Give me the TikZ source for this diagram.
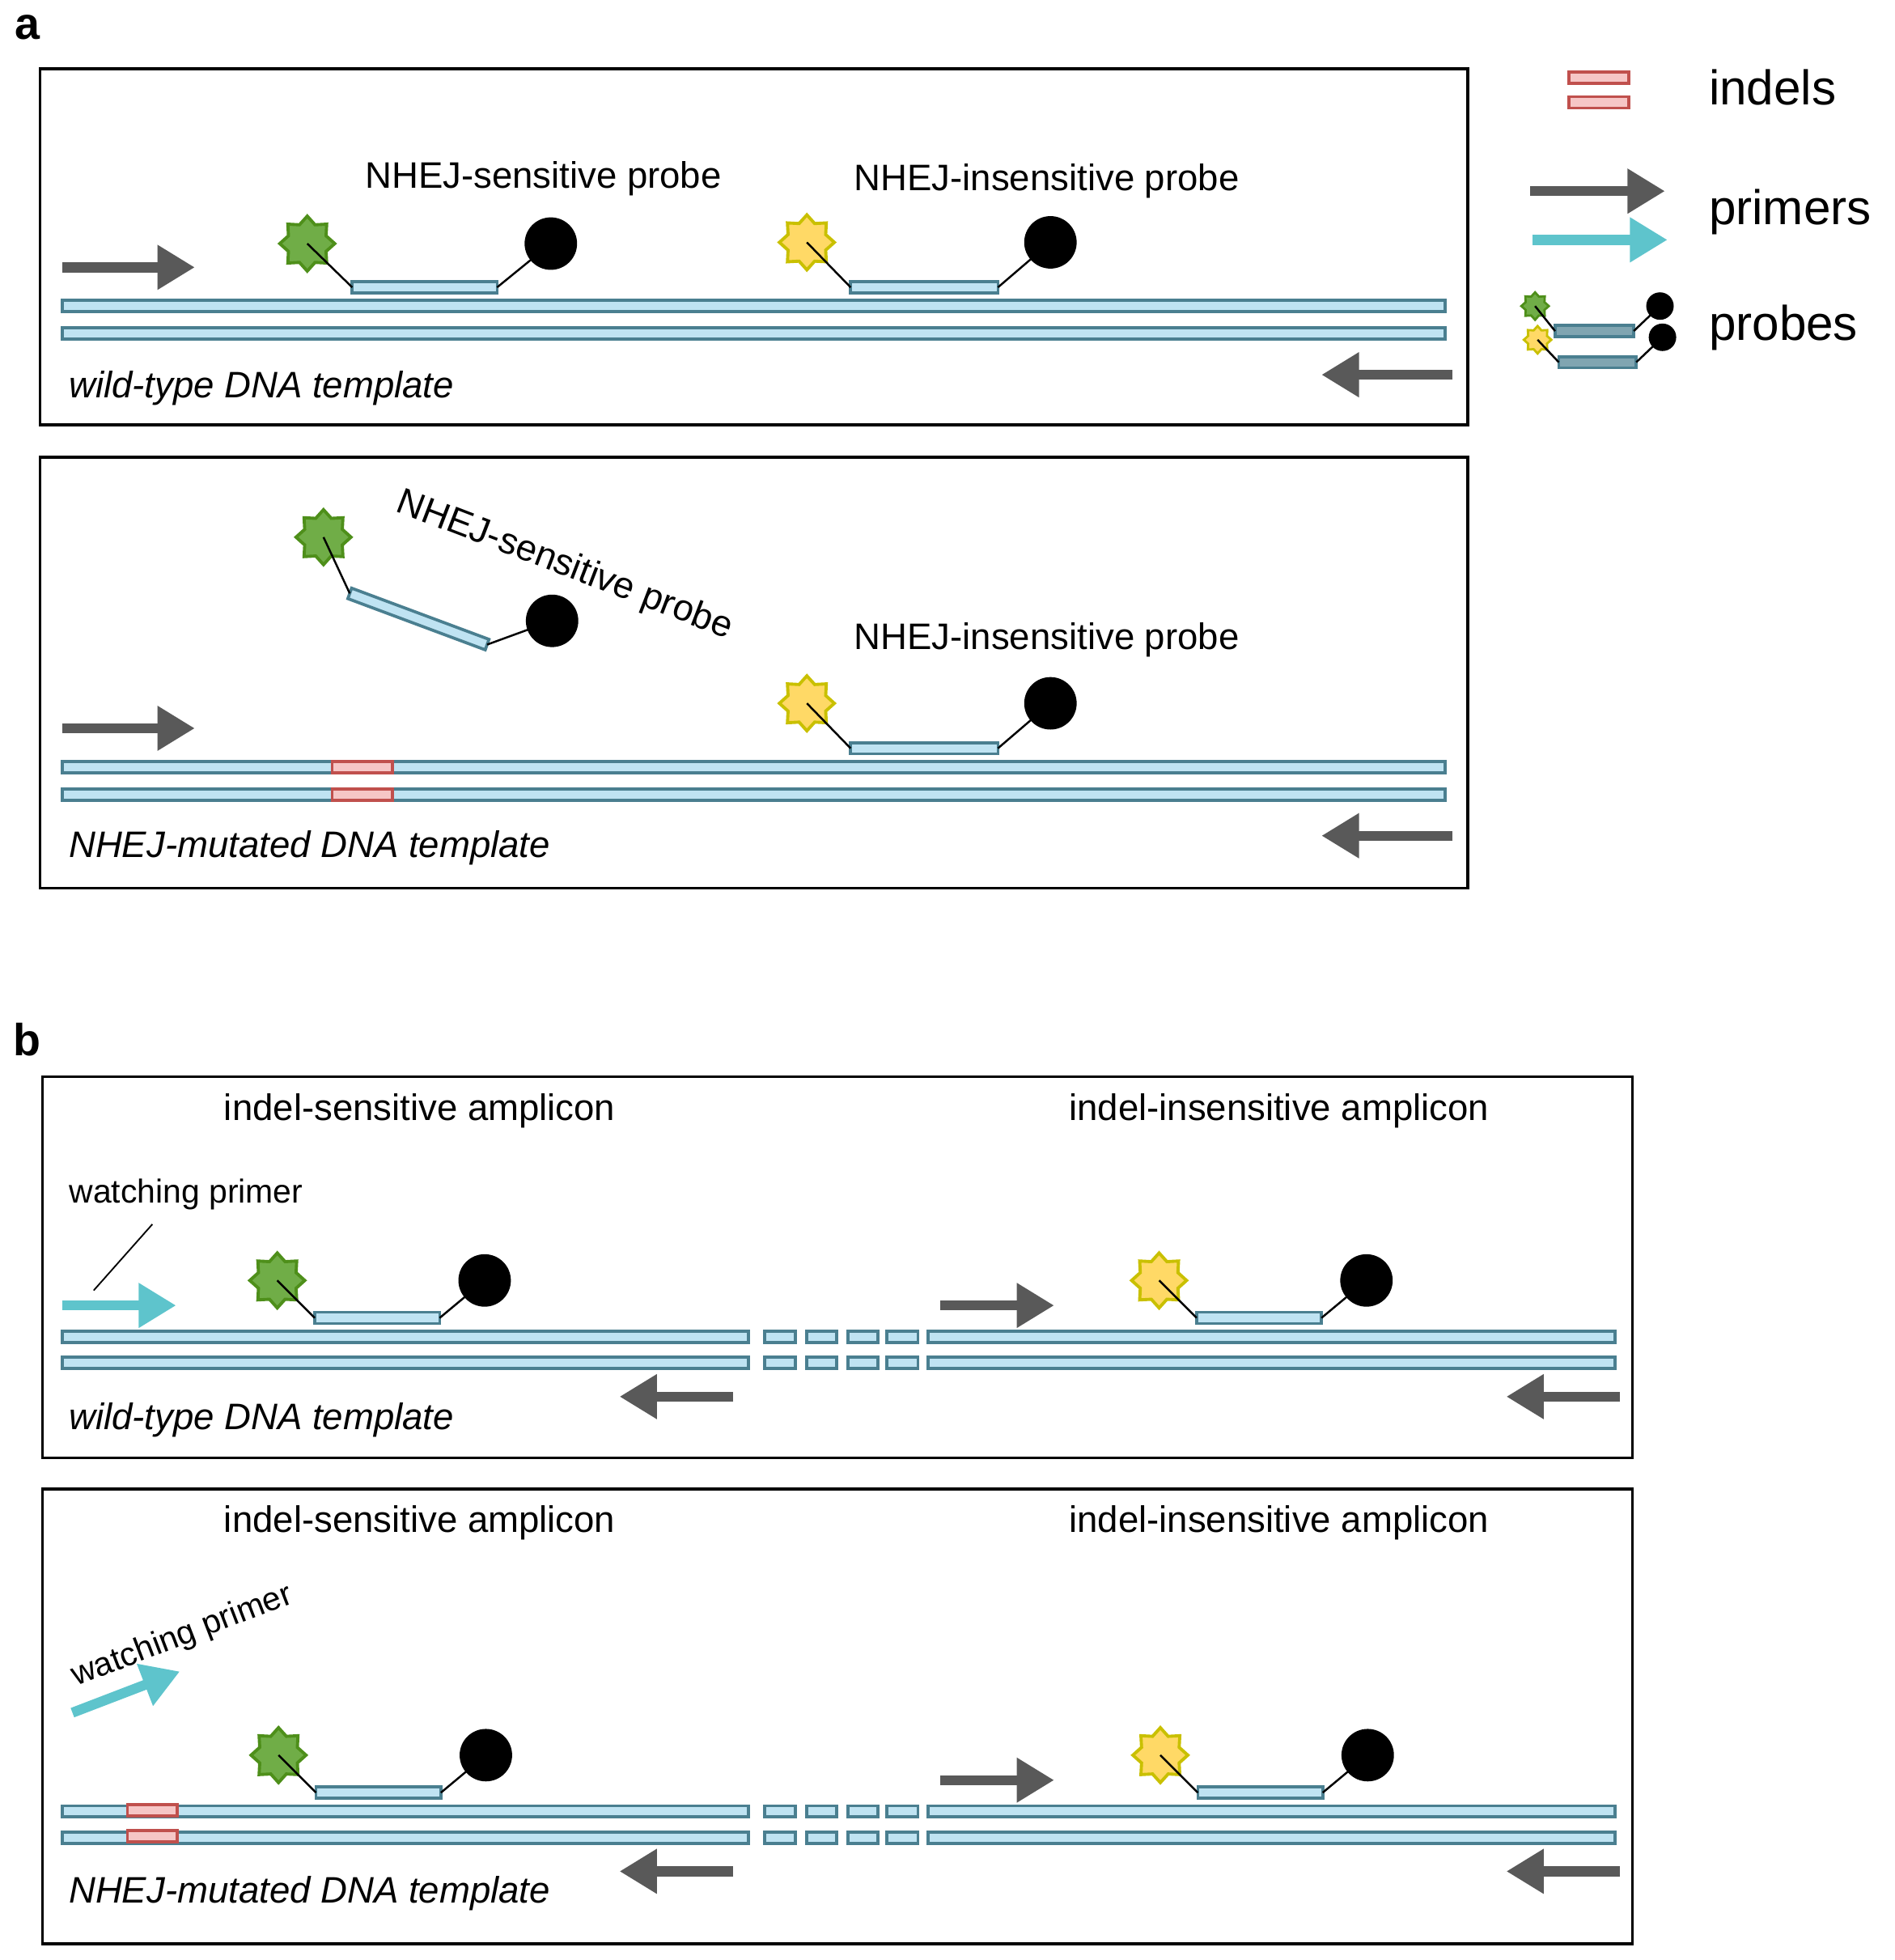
\documentclass[tikz,border=0pt]{standalone}
\usepackage{fontspec}
\setmainfont{Liberation Sans}
\usetikzlibrary{shapes.geometric,arrows.meta,calc}
\definecolor{sfill}{HTML}{BFE3F2}
\definecolor{sdraw}{HTML}{4A7F90}
\definecolor{gfill}{HTML}{70AD47}
\definecolor{gdraw}{HTML}{4E8F1A}
\definecolor{yfill}{HTML}{FFD966}
\definecolor{ydraw}{HTML}{C9C000}
\definecolor{pgray}{HTML}{595959}
\definecolor{pcyan}{HTML}{5EC4CC}
\definecolor{ifill}{HTML}{F6C6C6}
\definecolor{idraw}{HTML}{C0504D}
\tikzset{
 panel/.style={draw=black,line width=2.2pt},
 strand/.style={fill=sfill,draw=sdraw,line width=2.4pt},
 indel/.style={fill=ifill,draw=idraw,line width=2.4pt},
 gstar/.style={star,star points=8,star point ratio=1.35,minimum size=44pt,inner sep=0,fill=gfill,draw=gdraw,line width=2.5pt},
 ystar/.style={star,star points=8,star point ratio=1.35,minimum size=44pt,inner sep=0,fill=yfill,draw=ydraw,line width=2.5pt},
 quench/.style={circle,fill=black,minimum size=42pt,inner sep=0},
 link/.style={line width=1.6pt},
 garrow/.style={draw=pgray,line width=8pt,-{Triangle[length=30pt,width=34pt]}},
 carrow/.style={draw=pcyan,line width=8pt,-{Triangle[length=30pt,width=34pt]}},
 lbl/.style={font=\fontsize{29.5}{32}\selectfont,inner sep=0},
 ilbl/.style={font=\fontsize{29.5}{32}\selectfont\itshape,inner sep=0,anchor=west},
 leg/.style={font=\fontsize{39}{42}\selectfont,inner sep=0,anchor=west},
}
\newcommand\strnd[3]{\draw[strand] (#1,#3-4.5) rectangle (#2,#3+4.5);}
\newcommand\indl[3]{\draw[indel] (#1,#3-4.5) rectangle (#2,#3+4.5);}
% name, star style, starx, stary, x1, x2, y, circx, circy
\newcommand\prb[9]{
 \node[#2] (#1s) at (#3,#4) {};
 \coordinate (#1a) at (#5,#7);
 \coordinate (#1b) at (#6,#7);
 \strnd{#5}{#6}{#7}
 \node[quench] (#1q) at (#8,#9) {};
 \draw[link] (#1s.center) -- (#1a);
 \draw[link] (#1b) -- (#1q.center);
}
\begin{document}
\begin{tikzpicture}[x=1pt,y=-1pt]
\useasboundingbox (0,0) rectangle (1517,1569);
% letters
\node[font=\fontsize{36}{38}\selectfont\bfseries,inner sep=0] (la) at (22,22) {a};
\node[font=\fontsize{36}{38}\selectfont\bfseries,inner sep=0] (lb) at (22,832) {b};
% panel a1
\draw[panel] (32,55) rectangle (1175,340);
\strnd{50}{1157}{245}
\strnd{50}{1157}{267}
\prb{p1}{gstar}{246}{195}{282}{398}{230}{441}{195}
\prb{p2}{ystar}{646}{194}{681}{799}{230}{841}{194}
\node[lbl] (t1) at (435,143) {NHEJ-sensitive probe};
\node[lbl] (t2) at (838,145) {NHEJ-insensitive probe};
\coordinate (f1a) at (50,214); \coordinate (f1b) at (156,214);
\draw[garrow] (f1a) -- (f1b);
\coordinate (r1a) at (1163,300); \coordinate (r1b) at (1058,300);
\draw[garrow] (r1a) -- (r1b);
\node[ilbl] (w1) at (55,311) {wild-type DNA template};
% panel a2
\draw[panel] (32,366) rectangle (1175,711);
\strnd{50}{1157}{614}
\strnd{50}{1157}{636}
\indl{266}{314}{614}
\indl{266}{314}{636}
\node[gstar] (p3s) at (259,430) {};
\coordinate (p3a) at (280,475);
\coordinate (p3b) at (390,516);
\draw[strand] ($(p3a)+(1.5,-4.2)$) -- ($(p3b)+(1.5,-4.2)$) -- ($(p3b)+(-1.5,4.2)$) -- ($(p3a)+(-1.5,4.2)$) -- cycle;
\node[quench] (p3q) at (442,497) {};
\draw[link] (p3s.center) -- (p3a);
\draw[link] (p3b) -- (p3q.center);
\node[lbl,rotate=-21] (t3) at (452,453) {NHEJ-sensitive probe};
\prb{p4}{ystar}{646}{563}{681}{799}{599}{841}{563}
\node[lbl] (t4) at (838,512) {NHEJ-insensitive probe};
\coordinate (f2a) at (50,583); \coordinate (f2b) at (156,583);
\draw[garrow] (f2a) -- (f2b);
\coordinate (r2a) at (1163,669); \coordinate (r2b) at (1058,669);
\draw[garrow] (r2a) -- (r2b);
\node[ilbl] (w2) at (55,679) {NHEJ-mutated DNA template};
% legend
\indl{1256}{1304}{62}
\indl{1256}{1304}{82}
\node[leg] (li) at (1368,70) {indels};
\coordinate (lg1) at (1225,153); \coordinate (lg2) at (1333,153);
\draw[garrow] (lg1) -- (lg2);
\coordinate (lc1) at (1227,192); \coordinate (lc2) at (1335,192);
\draw[carrow] (lc1) -- (lc2);
\node[leg] (lp) at (1368,170) {primers};
\begin{scope}[gstar/.append style={minimum size=22pt,line width=1.8pt},ystar/.append style={minimum size=22pt,line width=1.8pt},quench/.append style={minimum size=22pt},strand/.append style={fill=sdraw!70!white}]
\prb{lq1}{gstar}{1229}{245}{1245}{1308}{265}{1329}{245}
\prb{lq2}{ystar}{1231}{272}{1248}{1310}{290}{1331}{270}
\end{scope}
\node[leg] (lr) at (1368,262) {probes};
% panel b1 and b2
\foreach \dy/\nm in {0/1,380/2}{
 \strnd{50}{599}{1070+\dy}
 \strnd{50}{599}{1091+\dy}
 \foreach \a/\b in {612/637,646/670,679/703,710/735}{
  \strnd{\a}{\b}{1070+\dy}
  \strnd{\a}{\b}{1091+\dy}
 }
 \strnd{743}{1293}{1070+\dy}
 \strnd{743}{1293}{1091+\dy}
 \coordinate (bg1\nm) at (753,1045+\dy); \coordinate (bg2\nm) at (844,1045+\dy);
 \draw[garrow] (bg1\nm) -- (bg2\nm);
 \coordinate (br1\nm) at (587,1118+\dy); \coordinate (br2\nm) at (496,1118+\dy);
 \draw[garrow] (br1\nm) -- (br2\nm);
 \coordinate (bs1\nm) at (1297,1118+\dy); \coordinate (bs2\nm) at (1206,1118+\dy);
 \draw[garrow] (bs1\nm) -- (bs2\nm);
}
\draw[panel] (34,862) rectangle (1307,1167);
\node[lbl] (u1) at (336,889) {indel-sensitive amplicon};
\node[lbl] (u2) at (1024,889) {indel-insensitive amplicon};
\prb{b1}{gstar}{222}{1025}{252}{352}{1055}{388}{1025}
\prb{b2}{ystar}{928}{1025}{958}{1058}{1055}{1094}{1025}
\coordinate (c1a) at (50,1045); \coordinate (c1b) at (141,1045);
\draw[carrow] (c1a) -- (c1b);
\node[font=\fontsize{26.5}{28}\selectfont,inner sep=0] (wp1) at (149,956) {watching primer};
\coordinate (wl1) at (75,1033); \coordinate (wl2) at (122,980);
\draw[link,line width=1.2pt] (wl1) -- (wl2);
\node[ilbl] (w3) at (55,1137) {wild-type DNA template};
\draw[panel] (34,1192) rectangle (1307,1556);
\node[lbl] (u3) at (336,1219) {indel-sensitive amplicon};
\node[lbl] (u4) at (1024,1219) {indel-insensitive amplicon};
\indl{102}{142}{1449}
\indl{102}{142}{1470}
\prb{b3}{gstar}{223}{1405}{253}{353}{1435}{389}{1405}
\prb{b4}{ystar}{929}{1405}{959}{1059}{1435}{1095}{1405}
\coordinate (c2a) at (58,1371); \coordinate (c2b) at (144,1338);
\draw[carrow] (c2a) -- (c2b);
\node[font=\fontsize{26.5}{28}\selectfont,inner sep=0,rotate=21] (wp2) at (146,1310) {watching primer};
\node[ilbl] (w4) at (55,1516) {NHEJ-mutated DNA template};
\end{tikzpicture}
\end{document}
